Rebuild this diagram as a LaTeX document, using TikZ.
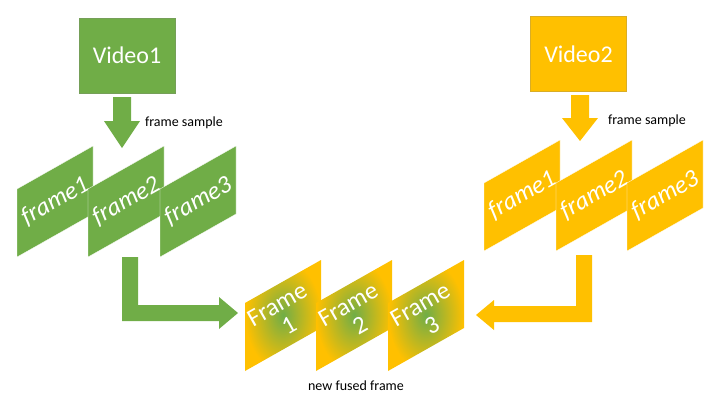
\documentclass[tikz,border=0pt]{standalone}
\usepackage{fontspec}
\setmainfont{Carlito}
\usetikzlibrary{positioning}
\definecolor{vgreen}{RGB}{112,173,71}
\definecolor{vgold}{RGB}{255,192,0}
\tikzset{
  video/.style={fill=#1,draw=#1!70!gray,minimum width=96pt,minimum height=75pt,text=white,font=\fontsize{24}{26}\selectfont},
  lbl/.style={font=\fontsize{14}{16}\selectfont,text=black},
  ftext/.style={text=white,rotate=29.5,inner sep=0pt,font=\fontsize{25}{25}\selectfont\itshape},
  fused/.style={text=white,rotate=29.5,align=center,inner sep=0pt,font=\fontsize{25}{24}\selectfont},
}
\begin{document}
\begin{tikzpicture}[x=1pt,y=-1pt]
\useasboundingbox (0,0) rectangle (728,405);
% videos
\node[video=vgreen] (v1) at (127,55.5) {Video1};
\node[video=vgold] (v2) at (578.5,54) {Video2};
% down arrows
\fill[vgreen] (113,97) -- (131,97) -- (131,121) -- (140,121) -- (122,148) -- (104,121) -- (113,121) -- cycle;
\fill[vgold] (571,95) -- (589,95) -- (589,118) -- (598,118) -- (580,141) -- (562,118) -- (571,118) -- cycle;
\node[lbl] (s1) at (184,123) {frame sample};
\node[lbl] (s2) at (647,121) {frame sample};
% green frames
\foreach \i/\x in {1/17,2/88,3/160}{
  \fill[vgreen,draw=white,line width=0.3pt] (\x,257) -- ++(0,-68) -- ++(76,-43) -- ++(0,68) -- cycle;
  \node[ftext] (g\i) at (\x+38,201) {frame\i};
}
% gold frames
\foreach \i/\x in {1/484,2/556,3/627}{
  \fill[vgold,draw=white,line width=0.3pt] (\x,251) -- ++(0,-68) -- ++(76,-43) -- ++(0,68) -- cycle;
  \node[ftext] (o\i) at (\x+38,195) {frame\i};
}
% fused frames
\foreach \i/\x in {1/245,2/316,3/388}{
  \shade[inner color=vgreen,outer color=vgold] (\x,371) -- ++(0,-68) -- ++(76,-43) -- ++(0,68) -- cycle;
  \node[fused] (f\i) at (\x+38,315) {Frame\\\i};
}
\node[lbl] (nf) at (356,386) {new fused frame};
% elbow arrows
\fill[vgreen] (122,257) -- (138,257) -- (138,305) -- (219,305) -- (219,297) -- (238,313) -- (219,329) -- (219,321) -- (122,321) -- cycle;
\fill[vgold] (576,255) -- (592,255) -- (592,322) -- (494,322) -- (494,330) -- (476,315) -- (494,300) -- (494,306) -- (576,306) -- cycle;
\end{tikzpicture}
\end{document}
